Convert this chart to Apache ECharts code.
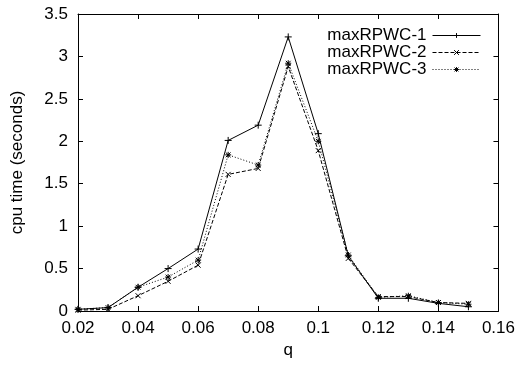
<!DOCTYPE html>
<html><head><meta charset="utf-8">
<script src="https://cdn.jsdelivr.net/npm/echarts@6/dist/echarts.min.js"></script>
<style>html,body{margin:0;padding:0;background:#fff}#c{width:518px;height:366px}</style>
</head><body><div id="c"></div>
<script>
const q = [0.02,0.03,0.04,0.05,0.06,0.07,0.08,0.09,0.10,0.11,0.12,0.13,0.14,0.15];
const s1 = [0.02,0.04,0.28,0.50,0.73,2.01,2.19,3.23,2.09,0.65,0.15,0.15,0.09,0.05];
const s2 = [0.01,0.02,0.18,0.35,0.54,1.61,1.68,2.88,1.89,0.62,0.17,0.17,0.10,0.09];
const s3 = [0.02,0.04,0.28,0.40,0.60,1.84,1.72,2.92,2.00,0.66,0.16,0.18,0.10,0.08];
const names = ['maxRPWC-1','maxRPWC-2','maxRPWC-3'];
const xTicks = {min:0.02,max:0.16,interval:0.02};
const yTicks = {min:0,max:3.5,interval:0.5};

const plus = 'path://M0,5L10,5M5,0L5,10';
const cross = 'path://M0,0L10,10M0,10L10,0';
const star = 'path://M0,5L10,5M5,0L5,10M1,1L9,9M1,9L9,1';
const font = 'Liberation Sans, Arial, Helvetica, sans-serif';
const pair = a => q.map((x,i)=>[x,a[i]]);
function ser(name, data, sym, type, size){
  return {name, type:'line', data:pair(data), symbol:sym, symbolSize:size,
    lineStyle:{color:'#000', width:1, type:type},
    itemStyle:{color:'#000', borderColor:'#000', borderWidth:1},
    animation:false};
}
const axisCommon = {
  axisLine:{show:true,onZero:false,lineStyle:{color:'#000',width:1}},
  axisTick:{show:true,inside:true,length:5,lineStyle:{color:'#000'}},
  splitLine:{show:false}
};
const chart = echarts.init(document.getElementById('c'));
chart.setOption({
  animation:false,
  backgroundColor:'#fff',
  textStyle:{fontFamily:font},
  grid:{left:78,right:16,top:14,bottom:55},
  legend:{
    data:names, right:32, top:22, orient:'vertical', align:'right',
    itemWidth:48, itemHeight:6, itemGap:0,
    lineStyle:{width:1},
    itemStyle:{borderWidth:1},
    textStyle:{fontSize:17, color:'#000', fontFamily:font, padding:[0,1,0,0], lineHeight:17}
  },
  xAxis:[
    Object.assign({type:'value',position:'bottom',name:'q',nameLocation:'middle',nameGap:21,
      nameTextStyle:{fontSize:17,color:'#000'},
      axisLabel:{fontSize:17,color:'#000',margin:9,formatter:v=>String(+v.toFixed(2))}}, xTicks, axisCommon),
    Object.assign({type:'value',position:'top',axisLabel:{show:false}}, xTicks, axisCommon)
  ],
  yAxis:[
    Object.assign({type:'value',position:'left',name:'cpu time (seconds)',nameLocation:'middle',nameGap:52,
      nameTextStyle:{fontSize:17,color:'#000'},
      axisLabel:{fontSize:17,color:'#000',margin:10,formatter:v=>String(+v.toFixed(1))}}, yTicks, axisCommon),
    Object.assign({type:'value',position:'right',axisLabel:{show:false}}, yTicks, axisCommon)
  ],
  series:[
    ser(names[0], s1, plus, 'solid', 7),
    ser(names[1], s2, cross, [4,2], 5),
    ser(names[2], s3, star, [1,2], 6)
  ]
});
</script></body></html>
